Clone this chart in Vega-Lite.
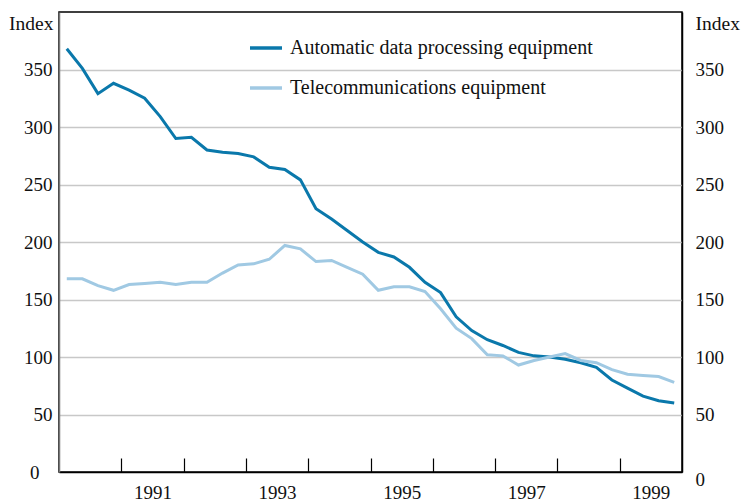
{
  "$schema": "https://vega.github.io/schema/vega-lite/v6.json",
  "width": 623,
  "height": 460,
  "autosize": {"type": "none"},
  "padding": {"left": 59, "top": 12, "right": 59, "bottom": 30},
  "background": "white",
  "config": {
    "view": {"stroke": "#000000", "strokeWidth": 1.5},
    "font": "Liberation Serif",
    "axis": {"labelFont": "Liberation Serif", "labelFontSize": 19, "labelColor": "#111111", "titleFont": "Liberation Serif", "titleFontSize": 19.5, "titleFontWeight": "normal", "titleColor": "#111111"},
    "legend": {"labelFont": "Liberation Serif", "labelFontSize": 20, "labelColor": "#111111"}
  },
  "data": {"values": [
    {"series": "Automatic data processing equipment", "t": 1990.125, "v": 368},
    {"series": "Automatic data processing equipment", "t": 1990.375, "v": 351},
    {"series": "Automatic data processing equipment", "t": 1990.625, "v": 329},
    {"series": "Automatic data processing equipment", "t": 1990.875, "v": 338},
    {"series": "Automatic data processing equipment", "t": 1991.125, "v": 332},
    {"series": "Automatic data processing equipment", "t": 1991.375, "v": 325},
    {"series": "Automatic data processing equipment", "t": 1991.625, "v": 309},
    {"series": "Automatic data processing equipment", "t": 1991.875, "v": 290},
    {"series": "Automatic data processing equipment", "t": 1992.125, "v": 291},
    {"series": "Automatic data processing equipment", "t": 1992.375, "v": 280},
    {"series": "Automatic data processing equipment", "t": 1992.625, "v": 278},
    {"series": "Automatic data processing equipment", "t": 1992.875, "v": 277},
    {"series": "Automatic data processing equipment", "t": 1993.125, "v": 274},
    {"series": "Automatic data processing equipment", "t": 1993.375, "v": 265},
    {"series": "Automatic data processing equipment", "t": 1993.625, "v": 263},
    {"series": "Automatic data processing equipment", "t": 1993.875, "v": 254},
    {"series": "Automatic data processing equipment", "t": 1994.125, "v": 229},
    {"series": "Automatic data processing equipment", "t": 1994.375, "v": 220},
    {"series": "Automatic data processing equipment", "t": 1994.625, "v": 210},
    {"series": "Automatic data processing equipment", "t": 1994.875, "v": 200},
    {"series": "Automatic data processing equipment", "t": 1995.125, "v": 191},
    {"series": "Automatic data processing equipment", "t": 1995.375, "v": 187},
    {"series": "Automatic data processing equipment", "t": 1995.625, "v": 178},
    {"series": "Automatic data processing equipment", "t": 1995.875, "v": 165},
    {"series": "Automatic data processing equipment", "t": 1996.125, "v": 156},
    {"series": "Automatic data processing equipment", "t": 1996.375, "v": 135},
    {"series": "Automatic data processing equipment", "t": 1996.625, "v": 123},
    {"series": "Automatic data processing equipment", "t": 1996.875, "v": 115},
    {"series": "Automatic data processing equipment", "t": 1997.125, "v": 110},
    {"series": "Automatic data processing equipment", "t": 1997.375, "v": 104},
    {"series": "Automatic data processing equipment", "t": 1997.625, "v": 101},
    {"series": "Automatic data processing equipment", "t": 1997.875, "v": 100},
    {"series": "Automatic data processing equipment", "t": 1998.125, "v": 98},
    {"series": "Automatic data processing equipment", "t": 1998.375, "v": 95},
    {"series": "Automatic data processing equipment", "t": 1998.625, "v": 91},
    {"series": "Automatic data processing equipment", "t": 1998.875, "v": 80},
    {"series": "Automatic data processing equipment", "t": 1999.125, "v": 73},
    {"series": "Automatic data processing equipment", "t": 1999.375, "v": 66},
    {"series": "Automatic data processing equipment", "t": 1999.625, "v": 62},
    {"series": "Automatic data processing equipment", "t": 1999.875, "v": 60},
    {"series": "Telecommunications equipment", "t": 1990.125, "v": 168},
    {"series": "Telecommunications equipment", "t": 1990.375, "v": 168},
    {"series": "Telecommunications equipment", "t": 1990.625, "v": 162},
    {"series": "Telecommunications equipment", "t": 1990.875, "v": 158},
    {"series": "Telecommunications equipment", "t": 1991.125, "v": 163},
    {"series": "Telecommunications equipment", "t": 1991.375, "v": 164},
    {"series": "Telecommunications equipment", "t": 1991.625, "v": 165},
    {"series": "Telecommunications equipment", "t": 1991.875, "v": 163},
    {"series": "Telecommunications equipment", "t": 1992.125, "v": 165},
    {"series": "Telecommunications equipment", "t": 1992.375, "v": 165},
    {"series": "Telecommunications equipment", "t": 1992.625, "v": 173},
    {"series": "Telecommunications equipment", "t": 1992.875, "v": 180},
    {"series": "Telecommunications equipment", "t": 1993.125, "v": 181},
    {"series": "Telecommunications equipment", "t": 1993.375, "v": 185},
    {"series": "Telecommunications equipment", "t": 1993.625, "v": 197},
    {"series": "Telecommunications equipment", "t": 1993.875, "v": 194},
    {"series": "Telecommunications equipment", "t": 1994.125, "v": 183},
    {"series": "Telecommunications equipment", "t": 1994.375, "v": 184},
    {"series": "Telecommunications equipment", "t": 1994.625, "v": 178},
    {"series": "Telecommunications equipment", "t": 1994.875, "v": 172},
    {"series": "Telecommunications equipment", "t": 1995.125, "v": 158},
    {"series": "Telecommunications equipment", "t": 1995.375, "v": 161},
    {"series": "Telecommunications equipment", "t": 1995.625, "v": 161},
    {"series": "Telecommunications equipment", "t": 1995.875, "v": 157},
    {"series": "Telecommunications equipment", "t": 1996.125, "v": 142},
    {"series": "Telecommunications equipment", "t": 1996.375, "v": 125},
    {"series": "Telecommunications equipment", "t": 1996.625, "v": 116},
    {"series": "Telecommunications equipment", "t": 1996.875, "v": 102},
    {"series": "Telecommunications equipment", "t": 1997.125, "v": 101},
    {"series": "Telecommunications equipment", "t": 1997.375, "v": 93},
    {"series": "Telecommunications equipment", "t": 1997.625, "v": 97},
    {"series": "Telecommunications equipment", "t": 1997.875, "v": 100},
    {"series": "Telecommunications equipment", "t": 1998.125, "v": 103},
    {"series": "Telecommunications equipment", "t": 1998.375, "v": 97},
    {"series": "Telecommunications equipment", "t": 1998.625, "v": 95},
    {"series": "Telecommunications equipment", "t": 1998.875, "v": 89},
    {"series": "Telecommunications equipment", "t": 1999.125, "v": 85},
    {"series": "Telecommunications equipment", "t": 1999.375, "v": 84},
    {"series": "Telecommunications equipment", "t": 1999.625, "v": 83},
    {"series": "Telecommunications equipment", "t": 1999.875, "v": 78}
  ]},
  "layer": [
    {
      "mark": {"type": "line", "strokeWidth": 3, "strokeJoin": "miter"},
      "encoding": {
        "x": {
          "field": "t", "type": "quantitative",
          "scale": {"domain": [1990, 2000], "nice": false, "zero": false},
          "axis": {
            "title": null,
            "values": [1991, 1991.5, 1992, 1993, 1993.5, 1994, 1995, 1995.5, 1996, 1997, 1997.5, 1998, 1999, 1999.5],
            "labelExpr": "datum.value % 1 != 0 ? toString(floor(datum.value)) : ''",
            "grid": false,
            "tickSize": -14,
            "tickWidth": 1.2,
            "tickColor": "#000000",
            "tickOpacity": {"condition": {"test": "datum.value % 1 == 0", "value": 1}, "value": 0},
            "labelPadding": 25,
            "labelBaseline": "top",
            "domainColor": "#000000",
            "domainWidth": 1.5,
            "labelFlush": false,
            "labelOverlap": false
          }
        },
        "y": {
          "field": "v", "type": "quantitative",
          "scale": {"domain": [0, 400], "nice": false},
          "axis": {
            "title": "Index",
            "titleAngle": 0,
            "titleAlign": "right",
            "titleBaseline": "alphabetic",
            "titleX": -6,
            "titleY": 17,
            "values": [0, 50, 100, 150, 200, 250, 300, 350],
            "format": "d",
            "tickSize": 0,
            "labelPadding": {"condition": {"test": "datum.value == 0", "value": 20}, "value": 7},
            "domainColor": "#777777",
            "domainWidth": 1.5,
            "grid": true,
            "gridColor": "#c8c8c8",
            "gridWidth": 1.5,
            "gridOpacity": {"condition": {"test": "datum.value == 0", "value": 0}, "value": 1}
          }
        },
        "color": {
          "field": "series", "type": "nominal",
          "scale": {"domain": ["Automatic data processing equipment", "Telecommunications equipment"], "range": ["#0a78ab", "#a0c9e3"]},
          "legend": {
            "title": null,
            "orient": "none",
            "legendX": 189,
            "legendY": 18,
            "symbolType": "stroke",
            "symbolSize": 1024,
            "symbolStrokeWidth": 3.5,
            "labelOffset": 6,
            "rowPadding": 12,
            "labelLimit": 500,
            "fillColor": null,
            "padding": 0
          }
        }
      }
    },
    {
      "mark": {"type": "line", "strokeWidth": 3, "opacity": 0},
      "encoding": {
        "x": {"field": "t", "type": "quantitative"},
        "y": {
          "field": "v", "type": "quantitative",
          "axis": {
            "orient": "right",
            "title": "Index",
            "titleAngle": 0,
            "titleAlign": "left",
            "titleBaseline": "alphabetic",
            "titleX": 13,
            "titleY": 17,
            "values": [0, 50, 100, 150, 200, 250, 300, 350],
            "format": "d",
            "tickSize": 0,
            "labelPadding": 13,
            "labelOffset": {"condition": {"test": "datum.value == 0", "value": 7}, "value": 0},
            "domainColor": "#000000",
            "domainWidth": 1.5,
            "grid": false
          }
        },
        "detail": {"field": "series", "type": "nominal"}
      }
    }
  ],
  "resolve": {"axis": {"y": "independent"}}
}
